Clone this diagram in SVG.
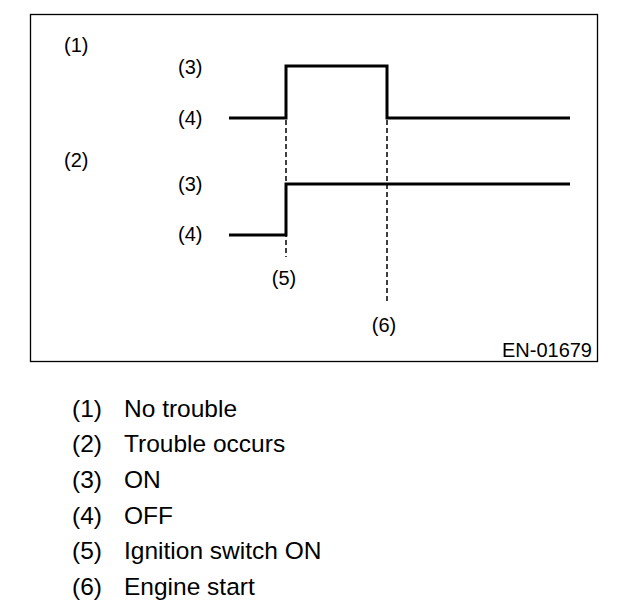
<svg xmlns="http://www.w3.org/2000/svg" width="624" height="614" viewBox="0 0 624 614">
<style>
.lbl{font-family:"Liberation Sans",Arial,sans-serif;font-size:20px;fill:#000}
.leg{font-family:"Liberation Sans",Arial,sans-serif;font-size:24.5px;fill:#000}
.sig{fill:none;stroke:#000;stroke-width:3;stroke-linejoin:miter}
.dash{fill:none;stroke:#000;stroke-width:1.5;stroke-dasharray:5,3}
</style>
<rect x="0" y="0" width="624" height="614" fill="#fff"/>
<rect id="frame" x="30.5" y="14.5" width="567" height="347" fill="none" stroke="#000" stroke-width="1.3"/>
<g id="connectors">
<path class="sig" d="M229,118 H286 V66 H387 V118 H570"/>
<path class="sig" d="M229,235 H286 V184 H570"/>
<path class="dash" d="M286,120 V257"/>
<path class="dash" d="M387,120 V302" stroke-width="1"/>
</g>
<g id="labels">
<text class="lbl" x="64" y="52">(1)</text>
<text class="lbl" x="178" y="74">(3)</text>
<text class="lbl" x="178" y="125">(4)</text>
<text class="lbl" x="64" y="167">(2)</text>
<text class="lbl" x="178" y="191">(3)</text>
<text class="lbl" x="178" y="241">(4)</text>
<text class="lbl" x="284" y="285" text-anchor="middle">(5)</text>
<text class="lbl" x="384" y="332" text-anchor="middle">(6)</text>
<text class="lbl" x="592" y="357" text-anchor="end">EN-01679</text>
</g>
<g id="legend">
<text class="leg" x="72" y="417">(1)</text><text class="leg" x="124" y="417">No trouble</text>
<text class="leg" x="72" y="452">(2)</text><text class="leg" x="124" y="452">Trouble occurs</text>
<text class="leg" x="72" y="488">(3)</text><text class="leg" x="124" y="488">ON</text>
<text class="leg" x="72" y="524">(4)</text><text class="leg" x="124" y="524">OFF</text>
<text class="leg" x="72" y="559">(5)</text><text class="leg" x="124" y="559">Ignition switch ON</text>
<text class="leg" x="72" y="595">(6)</text><text class="leg" x="124" y="595">Engine start</text>
</g>
</svg>
